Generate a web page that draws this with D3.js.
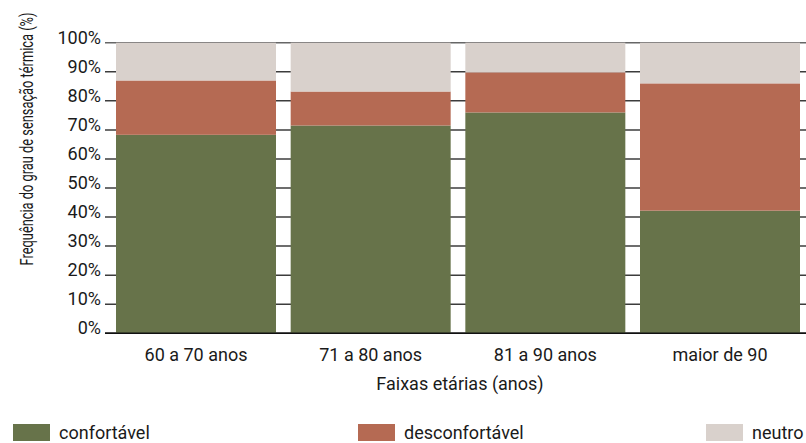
<!DOCTYPE html>
<html><head><meta charset="utf-8">
<script src="https://cdn.jsdelivr.net/npm/d3@7/dist/d3.min.js"></script>
<style>
body{margin:0;background:#fff;}
text{font-family:Roboto,"Noto Sans",sans-serif;fill:#1a1a1a;}
</style></head>
<body><svg id="c" width="806" height="443"></svg>
<script>
const categories = ["60 a 70 anos","71 a 80 anos","81 a 90 anos","maior de 90"];
const seriesNames = ["confortável","desconfortável","neutro"];
const confortavel = [68.3, 71.5, 76.0, 42.2];
const desconfortavel = [18.7, 11.7, 13.8, 43.8];
const neutro = [13.0, 16.8, 10.2, 14.0];
const yTicks = [0,10,20,30,40,50,60,70,80,90,100];
const colors = ["#67734a","#b56a53","#d9d1cc"];

const rows = categories.map((c,i)=>({cat:c, "confortável":confortavel[i], "desconfortável":desconfortavel[i], "neutro":neutro[i]}));
const stack = d3.stack().keys(seriesNames)(rows);

const svg = d3.select("#c");
const x = d3.scaleBand().domain(categories).range([105,811]).paddingInner(0.084).paddingOuter(0.063);
const y = d3.scaleLinear().domain([0,100]).range([333.3,42.7]);

svg.append("g").selectAll("line").data(yTicks).join("line")
  .attr("x1",105).attr("x2",806)
  .attr("y1",d=>y(d)).attr("y2",d=>y(d))
  .attr("stroke",d=>d===0?"#111":(d===100?"#666":"#3c3c3c")).attr("stroke-width",1.5);

svg.append("g").selectAll("text").data(yTicks).join("text")
  .attr("x",101).attr("y",d=>y(d)).attr("dy","0.05em")
  .attr("text-anchor","end").attr("font-size",18)
  .text(d=>d+"%");

svg.append("g").selectAll("g").data(stack).join("g")
  .attr("fill",(d,i)=>colors[i])
  .selectAll("rect").data(d=>d).join("rect")
  .attr("x",d=>x(d.data.cat)).attr("width",x.bandwidth())
  .attr("y",d=>y(d[1])).attr("height",d=>y(d[0])-y(d[1]));

svg.append("line").attr("x1",105).attr("x2",806).attr("y1",y(0)).attr("y2",y(0)).attr("stroke","#111").attr("stroke-width",1.5);

svg.append("g").selectAll("text").data(categories).join("text")
  .attr("x",d=>x(d)+x.bandwidth()/2).attr("y",361)
  .attr("text-anchor","middle").attr("font-size",18).text(d=>d);

svg.append("text").attr("x",460).attr("y",390).attr("text-anchor","middle").attr("font-size",18).text("Faixas etárias (anos)");

const yt = svg.append("text").attr("text-anchor","middle").attr("font-size",18)
  .text("Frequência do grau de sensação térmica (%)");
const len = yt.node().getComputedTextLength();
const sx = Math.min(1, 253/len);
yt.attr("transform",`translate(33,139) rotate(-90) scale(${sx},1)`);

const lx = [13,358,706];
const lg = svg.append("g").selectAll("g").data(seriesNames).join("g")
  .attr("transform",(d,i)=>`translate(${lx[i]},424)`);
lg.append("rect").attr("width",37).attr("height",17).attr("fill",(d,i)=>colors[i]);
lg.append("text").attr("x",46).attr("y",15).attr("font-size",18).text(d=>d);
</script></body></html>
